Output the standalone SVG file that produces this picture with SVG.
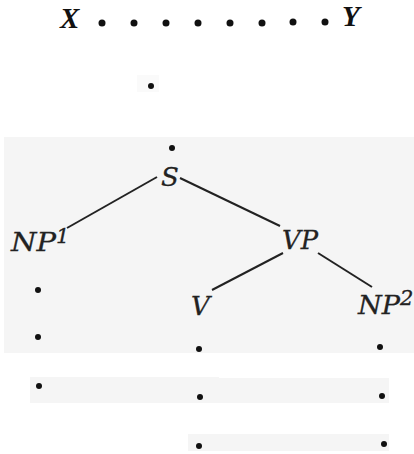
<svg xmlns="http://www.w3.org/2000/svg" width="414" height="454" viewBox="0 0 414 454">
<style>
.bg{fill:#f5f5f5}
.dot{fill:#111}
.lbl{font-family:"DejaVu Serif","Liberation Serif",serif;font-style:italic;font-size:26px;fill:#222;stroke:#222;stroke-width:0.3}
.sup{font-family:"DejaVu Serif","Liberation Serif",serif;font-style:italic;font-size:21px;fill:#222;stroke:#222;stroke-width:0.3}
.xy{font-family:"Liberation Serif",serif;font-style:italic;font-weight:bold;font-size:29px;fill:#111}
.edge{stroke:#222;stroke-width:2;fill:none}
</style>
<rect width="414" height="454" fill="#fff"/>
<g id="backgrounds">
<rect x="137" y="75" width="22" height="17" fill="#fafafa"/>
<rect class="bg" x="4" y="137" width="410" height="216"/>
<rect class="bg" x="30" y="377" width="189" height="26"/>
<rect class="bg" x="212" y="378" width="177" height="25"/>
<rect class="bg" x="188" y="434" width="201" height="17"/>
</g>
<g id="top-row">
<text class="xy" x="60" y="28">X</text>
<text class="xy" x="342" y="26">Y</text>
<circle class="dot" cx="102" cy="23" r="3.5"/>
<circle class="dot" cx="134" cy="23" r="3.5"/>
<circle class="dot" cx="166" cy="23" r="3.5"/>
<circle class="dot" cx="198" cy="23" r="3.5"/>
<circle class="dot" cx="230" cy="23" r="3.5"/>
<circle class="dot" cx="262" cy="23" r="3.5"/>
<circle class="dot" cx="293" cy="22" r="3.5"/>
<circle class="dot" cx="325" cy="22" r="3.5"/>
<circle class="dot" cx="151" cy="86" r="3"/>
</g>
<g id="connectors">
<line class="edge" x1="157" y1="177" x2="67" y2="228"/>
<line class="edge" x1="180" y1="178" x2="280" y2="226"/>
<line class="edge" x1="283" y1="253" x2="212" y2="290"/>
<line class="edge" x1="318" y1="253" x2="372" y2="287"/>
</g>
<g id="node-S">
<circle class="dot" cx="172" cy="148" r="3"/>
<text class="lbl" x="161" y="186" font-size="24">S</text>
</g>
<g id="node-NP1">
<text class="lbl" x="11" y="251" textLength="45" lengthAdjust="spacingAndGlyphs">NP</text>
<text class="sup" x="56" y="243">1</text>
<circle class="dot" cx="38" cy="290" r="3"/>
<circle class="dot" cx="38" cy="337" r="3"/>
<circle class="dot" cx="39" cy="386" r="3"/>
</g>
<g id="node-VP">
<text class="lbl" x="282" y="249" textLength="36" lengthAdjust="spacingAndGlyphs">VP</text>
</g>
<g id="node-V">
<text class="lbl" x="191" y="315">V</text>
<circle class="dot" cx="199" cy="349" r="3"/>
<circle class="dot" cx="200" cy="397" r="3"/>
<circle class="dot" cx="199" cy="446" r="3"/>
</g>
<g id="node-NP2">
<text class="lbl" x="358" y="314" textLength="42" lengthAdjust="spacingAndGlyphs">NP</text>
<text class="sup" x="400" y="305">2</text>
<circle class="dot" cx="380" cy="347" r="3"/>
<circle class="dot" cx="382" cy="396" r="3"/>
<circle class="dot" cx="384" cy="444" r="3"/>
</g>
</svg>
